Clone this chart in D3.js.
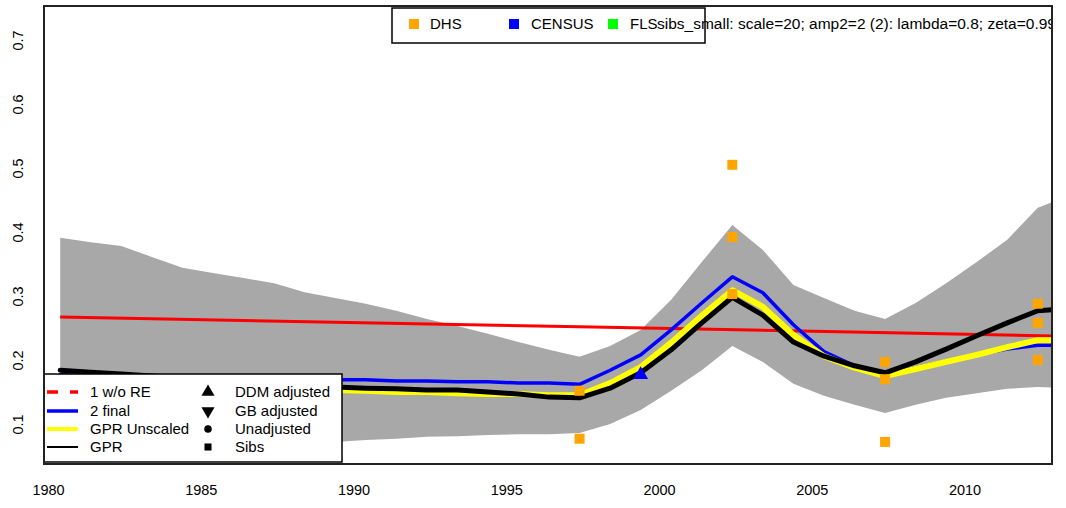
<!DOCTYPE html>
<html><head><meta charset="utf-8">
<script src="https://cdn.jsdelivr.net/npm/d3@7"></script>
<style>
body{margin:0;background:#fff}
svg{display:block}
text{font-family:"Liberation Sans",Arial,Helvetica,sans-serif;fill:#000}
</style>
</head><body>
<svg id="c" width="1066" height="508"></svg>
<script>
// ---------- data ----------
const years = [1980.4,1981.4,1982.4,1983.4,1984.4,1985.4,1986.4,1987.4,1988.4,1989.4,
  1990.4,1991.4,1992.4,1993.4,1994.4,1995.4,1996.4,1997.4,1998.4,1999.4,
  2000.4,2001.4,2002.4,2003.4,2004.4,2005.4,2006.4,2007.4,2008.4,2009.4,
  2010.4,2011.4,2012.4,2013.4];
const gprValues = [0.184,0.181,0.178,0.175,0.172,0.169,0.166,0.163,0.159,0.158,
  0.156,0.155,0.153,0.153,0.150,0.147,0.142,0.141,0.156,0.180,
  0.216,0.258,0.298,0.270,0.228,0.206,0.191,0.180,0.197,0.217,
  0.238,0.258,0.277,0.280];
const finalValues = [0.177,0.175,0.175,0.173,0.173,0.172,0.172,0.170,0.170,0.169,
  0.169,0.167,0.167,0.166,0.166,0.164,0.164,0.162,0.184,0.208,
  0.247,0.289,0.330,0.305,0.255,0.213,0.191,0.178,0.188,0.198,
  0.208,0.217,0.223,0.223];
const unscaledValues = [0.172,0.170,0.169,0.167,0.166,0.162,0.161,0.159,0.156,0.153,
  0.152,0.150,0.150,0.148,0.147,0.147,0.145,0.145,0.164,0.189,
  0.227,0.269,0.309,0.283,0.239,0.206,0.188,0.175,0.186,0.197,
  0.208,0.220,0.231,0.231];
const upperValues = [0.391,0.384,0.378,0.361,0.344,0.336,0.328,0.320,0.306,0.297,
  0.288,0.277,0.264,0.253,0.241,0.228,0.216,0.205,0.222,0.247,
  0.294,0.353,0.411,0.372,0.317,0.297,0.277,0.264,0.289,0.320,
  0.353,0.388,0.438,0.456];
const lowerValues = [0.056,0.058,0.059,0.063,0.064,0.066,0.067,0.069,0.070,0.072,
  0.075,0.077,0.080,0.081,0.083,0.084,0.084,0.086,0.100,0.122,
  0.152,0.184,0.222,0.197,0.163,0.144,0.130,0.117,0.130,0.141,
  0.148,0.155,0.158,0.156];
const noReYears = [1980.4, 1997.4, 2013.4];
const noReValues = [0.267, 0.252, 0.237];
const sibsYears = [1997.4,1997.4,2002.4,2002.4,2002.4,2007.4,2007.4,2007.4,2012.4,2012.4,2012.4];
const sibsValues = [0.152,0.077,0.505,0.392,0.303,0.197,0.170,0.072,0.288,0.258,0.200];
const ddmYears = [1999.4];
const ddmValues = [0.177];
const xTicks = [1980,1985,1990,1995,2000,2005,2010];
const yTicks = [0.1,0.2,0.3,0.4,0.5,0.6,0.7];
const sourceNames = ["DHS","CENSUS","FLS"];
const sourceColors = ["#FFA500","#0000FF","#00FF00"];
const lineNames = ["1 w/o RE","2 final","GPR Unscaled","GPR"];
const symbolNames = ["DDM adjusted","GB adjusted","Unadjusted","Sibs"];
const titleText = "sibs_small: scale=20; amp2=2 (2): lambda=0.8; zeta=0.99";

// ---------- layout ----------
const svg = d3.select("#c");
const P = {l:44, t:6, r:1052, b:464};
const x = d3.scaleLinear().domain([1980, 2010]).range([48, 964.5]);
const y = d3.scaleLinear().domain([0.1, 0.7]).range([424, 40]);

svg.append("defs").append("clipPath").attr("id","plotclip")
  .append("rect").attr("x",P.l).attr("y",P.t).attr("width",P.r-P.l).attr("height",P.b-P.t);

const plot = svg.append("g").attr("clip-path","url(#plotclip)");

const series = years.map((yr,i)=>({yr, gpr:gprValues[i], fin:finalValues[i], uns:unscaledValues[i], up:upperValues[i], lo:lowerValues[i]}));

plot.append("path").datum(series)
  .attr("d", d3.area().x(d=>x(d.yr)).y0(d=>y(d.lo)).y1(d=>y(d.up)))
  .attr("fill","#a8a8a8");

const noRe = noReYears.map((yr,i)=>({yr, v:noReValues[i]}));
plot.append("path").datum(noRe)
  .attr("d", d3.line().x(d=>x(d.yr)).y(d=>y(d.v)))
  .attr("fill","none").attr("stroke","#ff0000").attr("stroke-width",3);

function drawLine(key, color, w){
  plot.append("path").datum(series)
    .attr("d", d3.line().x(d=>x(d.yr)).y(d=>y(d[key])))
    .attr("fill","none").attr("stroke",color).attr("stroke-width",w)
    .attr("stroke-linejoin","round").attr("stroke-linecap","round");
}
drawLine("fin","#0000ff",3.5);
drawLine("uns","#ffff00",6);
drawLine("gpr","#000000",5);

// sibs squares
plot.selectAll("rect.sibs").data(sibsYears.map((yr,i)=>({yr,v:sibsValues[i]})))
  .enter().append("rect").attr("class","sibs")
  .attr("x",d=>x(d.yr)-5).attr("y",d=>y(d.v)-5).attr("width",10).attr("height",10)
  .attr("fill","#FFA500");

// census DDM triangle
plot.selectAll("path.ddm").data(ddmYears.map((yr,i)=>({yr,v:ddmValues[i]})))
  .enter().append("path").attr("class","ddm")
  .attr("d", d3.symbol().type(d3.symbolTriangle).size(95))
  .attr("transform", d=>`translate(${x(d.yr)},${y(d.v)})`)
  .attr("fill","#0000ff");

// ---------- axes ----------
const xa = svg.append("g").attr("transform",`translate(0,${P.b})`)
  .call(d3.axisBottom(x).tickValues(xTicks).tickSize(0).tickPadding(21).tickFormat(d3.format("d")));
xa.select(".domain").remove();
xa.selectAll("text").style("font-size","14.5px").style("font-family",'"Liberation Sans",Arial,sans-serif').attr("fill","#000");

const ya = svg.append("g").attr("transform",`translate(${P.l},0)`)
  .call(d3.axisLeft(y).tickValues(yTicks).tickSize(0).tickFormat(d3.format(".1f")));
ya.select(".domain").remove();
ya.selectAll("text").style("font-size","14.5px").style("font-family",'"Liberation Sans",Arial,sans-serif').attr("fill","#000")
  .attr("transform","rotate(-90)").attr("text-anchor","middle").attr("x",0).attr("y",-21).attr("dy",0);

// ---------- top legend ----------
const tl = svg.append("g");
tl.append("rect").attr("x",392).attr("y",8).attr("width",313).attr("height",35)
  .attr("fill","#fff").attr("stroke","#000").attr("stroke-width",1.5);
const tlX = [414, 514, 613];
const tlTextX = [430, 531, 630];
sourceNames.forEach((n,i)=>{
  tl.append("rect").attr("x",tlX[i]-5).attr("y",19).attr("width",10).attr("height",10).attr("fill",sourceColors[i]);
  tl.append("text").attr("x",tlTextX[i]).attr("y",24).attr("dy","0.35em").style("font-size","15px").text(n);
});
svg.append("text").attr("clip-path","url(#plotclip)").attr("x",657).attr("y",24).attr("dy","0.35em")
  .style("font-size","15.5px").text(titleText);

// ---------- bottom legend ----------
const bl = svg.append("g");
bl.append("rect").attr("x",44).attr("y",374).attr("width",298).attr("height",88)
  .attr("fill","#fff").attr("stroke","#000").attr("stroke-width",1.5);
const rowY = [392, 411, 429, 447];
const lineStyles = [
  {c:"#ff0000", w:3.5, dash:"11,12"},
  {c:"#0000ff", w:3.5, dash:null},
  {c:"#ffff00", w:4, dash:null},
  {c:"#000000", w:2, dash:null}
];
lineNames.forEach((n,i)=>{
  const s = lineStyles[i];
  const ln = bl.append("line").attr("x1",47).attr("x2",78).attr("y1",rowY[i]).attr("y2",rowY[i])
    .attr("stroke",s.c).attr("stroke-width",s.w);
  if(s.dash) ln.attr("stroke-dasharray",s.dash);
  bl.append("text").attr("x",90).attr("y",rowY[i]).attr("dy","0.35em").style("font-size","15px").text(n);
});
const symTypes = [d3.symbolTriangle, d3.symbolTriangle, d3.symbolCircle, d3.symbolSquare];
const symSizes = [75, 75, 45, 50];
symbolNames.forEach((n,i)=>{
  bl.append("path").attr("d", d3.symbol().type(symTypes[i]).size(symSizes[i]))
    .attr("transform", `translate(208,${rowY[i]})` + (i===1?" rotate(180)":""))
    .attr("fill","#000");
  bl.append("text").attr("x",235).attr("y",rowY[i]).attr("dy","0.35em").style("font-size","15px").text(n);
});

// ---------- frame ----------
svg.append("rect").attr("x",P.l).attr("y",P.t).attr("width",P.r-P.l).attr("height",P.b-P.t)
  .attr("fill","none").attr("stroke","#222").attr("stroke-width",2);
</script>
</body></html>
